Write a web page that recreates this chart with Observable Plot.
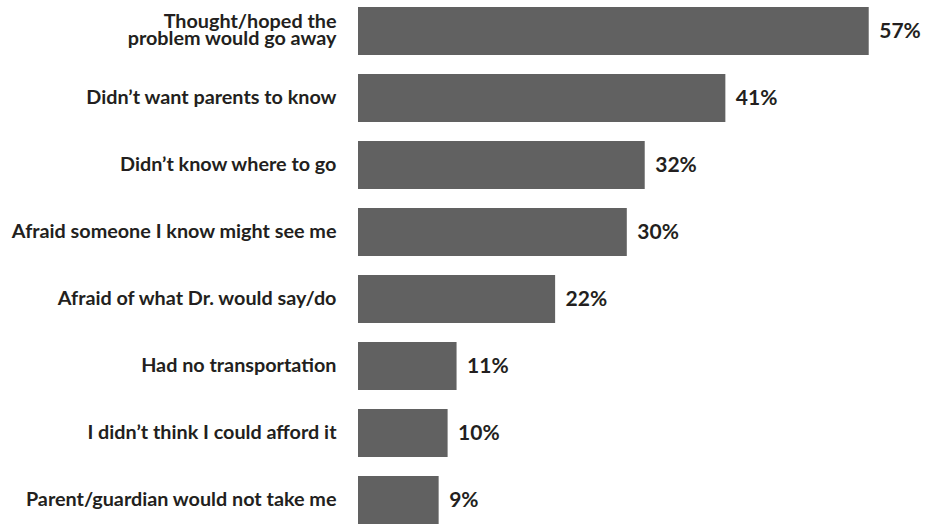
<!DOCTYPE html>
<html>
<head>
<meta charset="utf-8">
<script src="https://cdn.jsdelivr.net/npm/d3@7"></script>
<script src="https://cdn.jsdelivr.net/npm/@observablehq/plot@0.6"></script>
<style>
  html, body { margin: 0; padding: 0; background: #ffffff; }
  #chart svg { display: block; }
</style>
</head>
<body>
<div id="chart"></div>
<script>
const categories = [
  "Thought/hoped the\nproblem would go away",
  "Didn\u2019t want parents to know",
  "Didn\u2019t know where to go",
  "Afraid someone I know might see me",
  "Afraid of what Dr. would say/do",
  "Had no transportation",
  "I didn\u2019t think I could afford it",
  "Parent/guardian would not take me"
];
const values = [57, 41, 32, 30, 22, 11, 10, 9];

const data = categories.map((c, i) => ({category: c, value: values[i]}));

const chart = Plot.plot({
  width: 937,
  height: 525,
  marginLeft: 358,
  marginRight: 41.4,
  marginTop: 6,
  marginBottom: 0.5,
  style: {background: "#ffffff", fontFamily: "Lato, sans-serif"},
  x: {domain: [0, 60], axis: null},
  y: {domain: categories, axis: null, paddingInner: 0.278, paddingOuter: 0},
  marks: [
    Plot.barX(data, {x: "value", y: "category", fill: "#616161"}),
    Plot.text(data, {
      x: 0, y: "category", text: "category", dx: -22, textAnchor: "end",
      fontWeight: "bold", fontSize: 19.8, fill: "#231f20", lineHeight: 0.86
    }),
    Plot.text(data, {
      x: "value", y: "category", text: d => `${d.value}%`, dx: 10, textAnchor: "start",
      fontWeight: "bold", fontSize: 21, fill: "#231f20"
    })
  ]
});
document.getElementById("chart").appendChild(chart);
</script>
</body>
</html>
